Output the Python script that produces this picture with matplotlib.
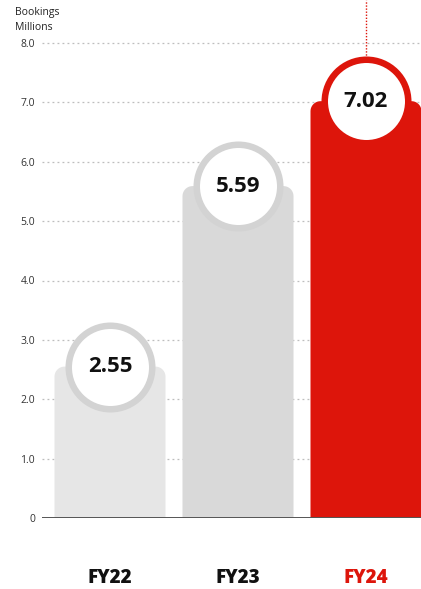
import numpy as np
import matplotlib.pyplot as plt
from matplotlib.patches import Polygon

years = ['FY22', 'FY23', 'FY24']
bookings = [2.55, 5.59, 7.02]
bar_colors = ['#e6e6e6', '#d9d9d9', '#dd150b']
ring_colors = ['#d3d3d3', '#d3d3d3', '#dd150b']
label_colors = ['#111111', '#111111', '#dd150b']
yticks = [0, 1, 2, 3, 4, 5, 6, 7, 8]
ytick_labels = ['0', '1.0', '2.0', '3.0', '4.0', '5.0', '6.0', '7.0', '8.0']

plt.rcParams['font.family'] = ['Open Sans', 'DejaVu Sans']

W, H = 421, 589
fig = plt.figure(figsize=(W / 100, H / 100), dpi=100)
# axes: left edge 42px, right edge at figure border, bottom (value 0) at 518px, top at 0px
ax = fig.add_axes([42 / W, (H - 518) / H, 1 - 42 / W, 518 / H])

px_per_unit_y = 475 / 8.0
px_per_unit_x = 128.0
ax.set_ylim(0, 518 / px_per_unit_y)
ax.set_xlim(-68 / px_per_unit_x, (421 - 110) / px_per_unit_x)

bar_w = 111 / px_per_unit_x
r_x = 10 / px_per_unit_x
r_y = 10 / px_per_unit_y


def rounded_top_bar(xc, h):
    # outline with rounded top corners, square bottom
    x0, x1 = xc - bar_w / 2, xc + bar_w / 2
    t = np.linspace(0, np.pi / 2, 12)
    left = np.column_stack([x0 + r_x - r_x * np.cos(t), h - r_y + r_y * np.sin(t)])
    right = np.column_stack([x1 - r_x + r_x * np.sin(t), h - r_y + r_y * np.cos(t)])
    pts = np.vstack([[[x0, 0]], left, right, [[x1, 0]]])
    return pts


# dotted grid
for t in yticks[1:]:
    ax.axhline(t, color='#bdbdbd', lw=0.9, ls=(0, (1.5, 2.5)), zorder=0)
ax.axhline(0, color='#555555', lw=1.4, zorder=3)

for i, (v, c) in enumerate(zip(bookings, bar_colors)):
    ax.add_patch(Polygon(rounded_top_bar(i, v), closed=True, fc=c, ec='none', zorder=1))

# red dotted leader above the latest year
ax.plot([2, 2], [bookings[2], ax.get_ylim()[1]], color='#dd150b', lw=1.0,
        ls=(0, (1, 1.2)), zorder=2, clip_on=False)

# value badges
ring_pt = 6.5 * 0.72
outer_r = 45
s = (2 * (outer_r - 3.25) * 0.72) ** 2
for i, v in enumerate(bookings):
    ax.scatter(i, v, s=s, c='white', edgecolors=ring_colors[i],
               linewidths=ring_pt, zorder=4, clip_on=False)
    ax.text(i, v, f'{v:.2f}', ha='center', va='center', fontsize=16,
            fontweight='bold', color='#111111', zorder=5)

ax.set_yticks(yticks)
ax.set_yticklabels(ytick_labels)
ax.tick_params(axis='y', length=0, pad=5, labelsize=7.5, labelcolor='#333333')
ax.set_xticks([])
for sp in ax.spines.values():
    sp.set_visible(False)

for i, (yr, lc) in enumerate(zip(years, label_colors)):
    ax.text(i, -60 / px_per_unit_y, yr, ha='center', va='center', fontsize=13.5,
            fontweight='heavy', color=lc, clip_on=False)

fig.text(15 / W, 1 - 13 / H, 'Bookings', fontsize=7.5, color='#222222',
         ha='left', va='center')
fig.text(15 / W, 1 - 27 / H, 'Millions', fontsize=7.5, color='#222222',
         ha='left', va='center')

fig.savefig('out.png', dpi=100)
